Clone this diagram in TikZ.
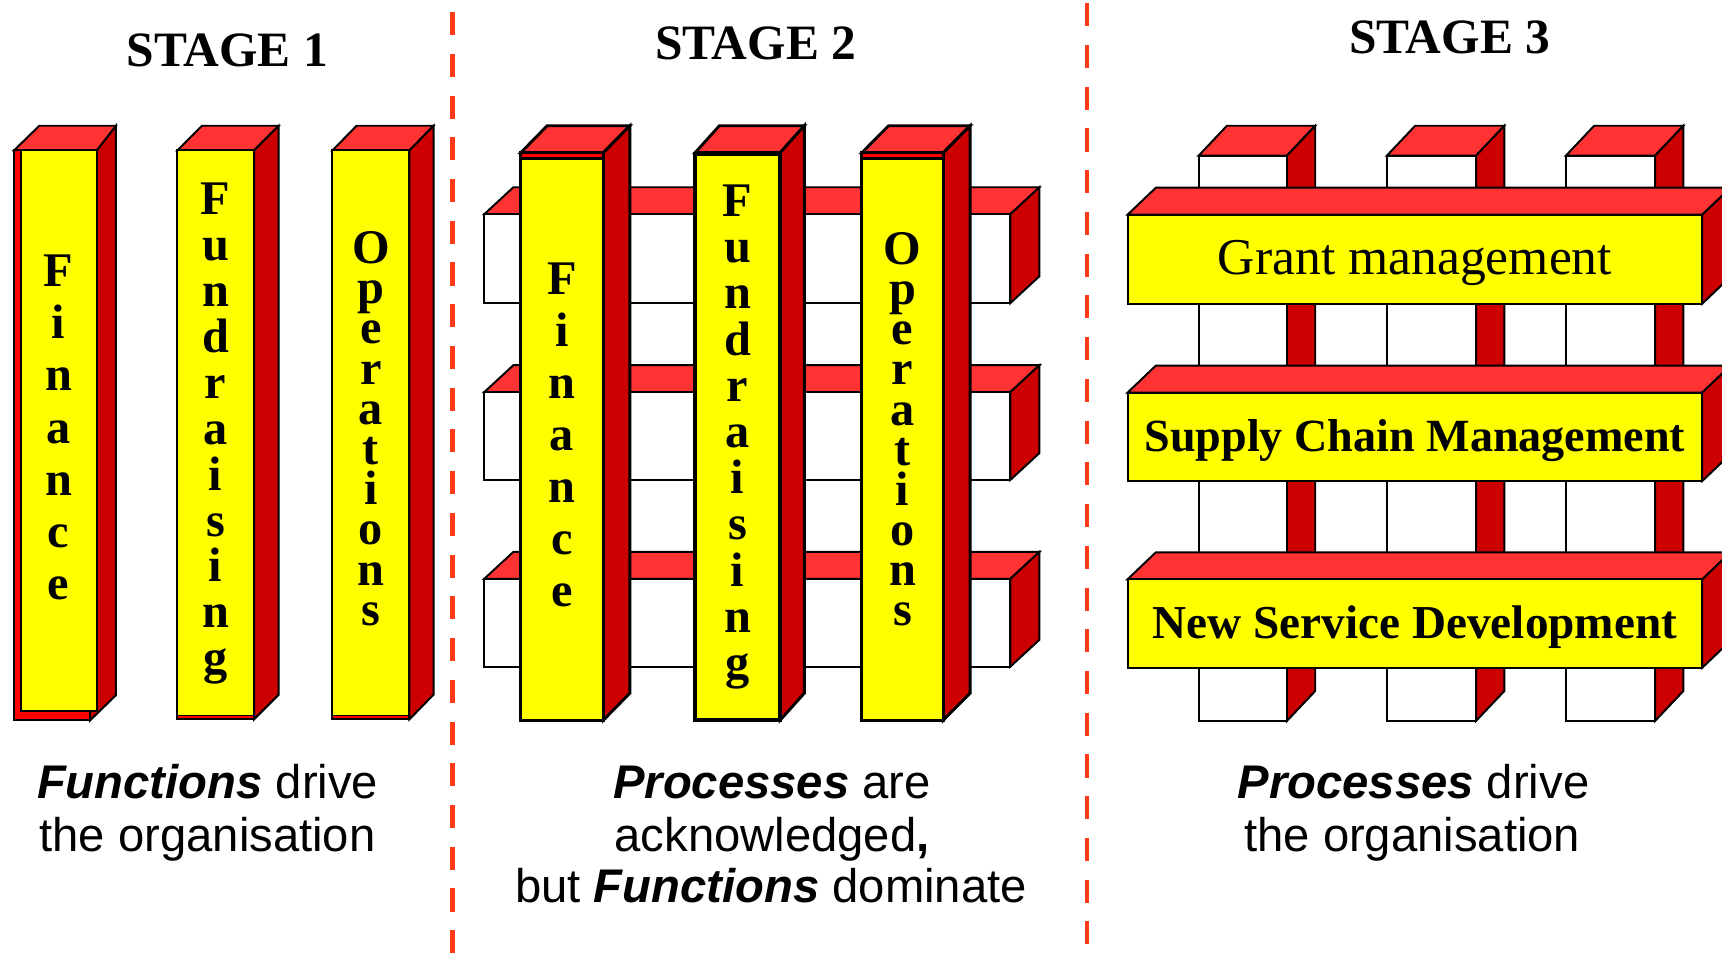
\documentclass[tikz,border=0pt]{standalone}
\usepackage{fontspec}
\setmainfont{Liberation Serif}
\newfontfamily\capfont{Liberation Sans}

\definecolor{topred}{HTML}{FF3333}
\definecolor{sidered}{HTML}{CC0000}
\definecolor{frontred}{HTML}{FF0000}
\definecolor{facey}{HTML}{FFFF00}
\definecolor{divider}{HTML}{FF3A14}

\tikzset{
  edge/.style={draw=black, line width=1.8pt, line join=miter},
  thick edge/.style={edge, line width=2.6pt},
  divline/.style={draw=divider, line width=3.8pt, dash pattern=on 21pt off 17pt},
  stagetitle/.style={anchor=base, inner sep=0pt, font=\fontsize{45}{50}\selectfont\bfseries},
  vletter/.style={anchor=base, inner sep=0pt, font=\fontsize{44}{44}\selectfont\bfseries},
  bartext/.style={anchor=base, inner sep=0pt},
  caption/.style={anchor=base, inner sep=0pt, font=\capfont\fontsize{43}{48}\selectfont},
}

% 3D block: [options] x1 y1 x2 y2 (front face), front colour, depth dx dy
\newcommand{\cuboid}[8][]{%
  \path[edge,#1,fill=topred] (#2,#3) -- ({#2+#7},{#3-#8}) -- ({#4+#7},{#3-#8}) -- (#4,#3) -- cycle;
  \path[edge,#1,fill=sidered] (#4,#3) -- ({#4+#7},{#3-#8}) -- ({#4+#7},{#5-#8}) -- (#4,#5) -- cycle;
  \path[edge,#1,fill=#6] (#2,#3) rectangle (#4,#5);
}

% letters stacked one under another: name prefix, x, first baseline, step, letters
\newcommand{\stackword}[5]{%
  \foreach \ch [count=\k from 0] in {#5}
    \node[vletter] (#1-\k) at (#2,{#3+#4*\k}) {\ch};
}

\begin{document}
\begin{tikzpicture}[x=1pt,y=-1pt]
\useasboundingbox (0,0) rectangle (1568,872);
\clip (0,0) rectangle (1568,872);
\fill[white] (0,0) rectangle (1568,872);

% ---------- stage dividers ----------
\draw[divline] (412,11) -- (412,890);
\draw[divline] (990,3) -- (990,890);

% ---------- titles ----------
\node[stagetitle] (title1) at (207,61) {STAGE 1};
\node[stagetitle] (title2) at (688,54) {STAGE 2};
\node[stagetitle] (title3) at (1320,48.5) {STAGE 3};

% ---------- stage 1: separate functional pillars ----------
% Finance
\path[edge,fill=sidered] (88,137) -- (105.6,114.5) -- (105.6,633) -- (82,656) -- cycle;
\path[edge,fill=topred] (12.7,137) -- (35.8,114.5) -- (105.6,114.5) -- (88,137) -- cycle;
\path[edge,fill=frontred] (12.7,137) rectangle (82,656);
\path[edge,fill=facey] (18.8,137) rectangle (88,647);
\stackword{sfin}{53.4}{261}{47.5}{F,i,n,a,n,c,e}
% Fundraising
\cuboid{161.5}{137}{231.3}{655}{frontred}{22.5}{22.5}
\path[edge,fill=facey] (161.5,137) rectangle (231.3,651.5);
\stackword{sfun}{196.4}{195.5}{41.8}{F,u,n,d,r,a,i,s,i,n,g}
% Operations
\cuboid{302.7}{137}{372.8}{655}{frontred}{22}{22.5}
\path[edge,fill=facey] (302.7,137) rectangle (372.8,651.5);
\stackword{sops}{337.7}{240}{36.6}{O,p,e,r,a,t,i,o,n,s}

% ---------- stage 2: processes behind the functions ----------
\cuboid{441}{195}{920}{276}{white}{26.5}{24.5}
\cuboid{441}{357}{920}{437}{white}{26.5}{24.5}
\cuboid{441}{527}{920}{607}{white}{26.5}{24.5}

\cuboid[thick edge]{474.2}{139}{549.5}{655.7}{frontred}{24}{24.5}
\path[thick edge,fill=facey] (474.2,144.5) rectangle (549.5,655.7);
\stackword{pfin}{511.8}{268}{47.3}{F,i,n,a,n,c,e}

\cuboid[thick edge]{633}{139}{710.4}{655.7}{frontred}{22}{24.5}
\path[thick edge,line width=3.6pt,fill=facey] (633,140.5) rectangle (710.4,655.7);
\stackword{pfun}{671.7}{197}{42.1}{F,u,n,d,r,a,i,s,i,n,g}

\cuboid[thick edge]{784.8}{139}{859}{655.7}{frontred}{24.4}{24.5}
\path[thick edge,fill=facey] (784.8,144.5) rectangle (859,655.7);
\stackword{pops}{821.9}{241}{36.5}{O,p,e,r,a,t,i,o,n,s}

% ---------- stage 3: processes in front ----------
\cuboid{1091.4}{141.8}{1171.8}{656.5}{white}{25.8}{27.3}
\cuboid{1262.8}{141.8}{1344}{656.5}{white}{25.8}{27.3}
\cuboid{1425.8}{141.8}{1507}{656.5}{white}{25.8}{27.3}

\cuboid{1026.7}{195.5}{1550}{276.5}{facey}{25.8}{24.6}
\cuboid{1026.7}{357.5}{1550}{438}{facey}{25.8}{24.6}
\cuboid{1026.7}{527.5}{1550}{608}{facey}{25.8}{24.6}

\node[bartext,font=\fontsize{47}{50}\selectfont] (grant) at (1288.4,250) {Grant management};
\node[bartext,font=\fontsize{42}{48}\selectfont\bfseries] (supply) at (1288.4,411) {Supply Chain Management};
\node[bartext,font=\fontsize{43}{48}\selectfont\bfseries] (newserv) at (1288.4,581.5) {New Service Development};

% ---------- captions ----------
\node[caption] (c1a) at (189,727) {\textbf{\textit{Functions}} drive};
\node[caption] (c1b) at (189,775) {the organisation};

\node[caption] (c2a) at (703,727) {\textbf{\textit{Processes}} are};
\node[caption] (c2b) at (703,775) {acknowledged\textbf{,}};
\node[caption] (c2c) at (702,822) {but \textbf{\textit{Functions}} dominate};

\node[caption] (c3a) at (1287,727) {\textbf{\textit{Processes}} drive};
\node[caption] (c3b) at (1286,775) {the organisation};
\end{tikzpicture}
\end{document}
